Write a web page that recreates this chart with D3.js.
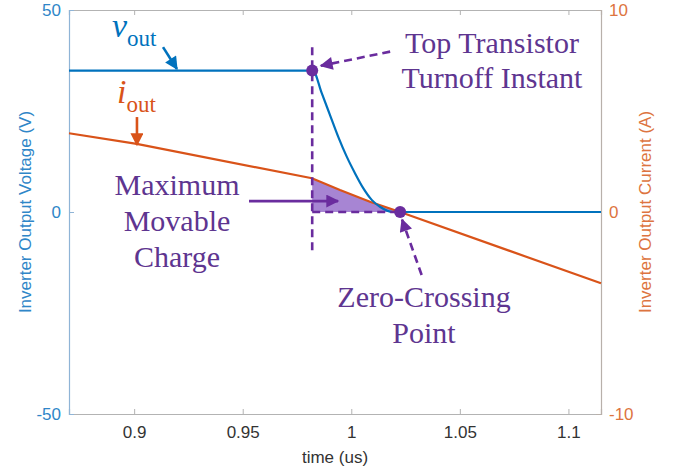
<!DOCTYPE html>
<html>
<head>
<meta charset="utf-8">
<script src="https://cdn.jsdelivr.net/npm/d3@7"></script>
<style>
  body { margin: 0; background: #fff; }
  text { font-family: Arial, "Liberation Sans", Helvetica, sans-serif; }
  text.serif { font-family: "Liberation Serif", "Times New Roman", serif; }
</style>
</head>
<body>
<div id="chart"></div>
<script>
// Output voltage (V)
var voutTime = [0.87, 0.9823, 0.9864, 0.9902, 0.9940, 0.9979, 1.0017, 1.0055, 1.0094, 1.0132, 1.0190, 1.115];
var voutVal  = [35, 35, 29.4, 24.0, 18.6, 13.7, 9.6, 5.9, 3.0, 1.3, 0, 0];

// Output current (A)
var ioutTime = [0.87, 0.9012, 0.9819, 0.9948, 1.0086, 1.0225, 1.115];
var ioutVal  = [3.90, 3.37, 1.67, 1.09, 0.51, 0, -3.53];

// Key instants
var turnoffTime = 0.982,
    zeroCrossTime = 1.0225;

var xTicks = [0.9, 0.95, 1, 1.05, 1.1];
var xTickLabels = ['0.9', '0.95', '1', '1.05', '1.1'];
var yLeftTicks = [-50, 0, 50];
var yLeftLabels = ['-50', '0', '50'];
var yRightTicks = [-10, 0, 10];
var yRightLabels = ['-10', '0', '10'];

(function () {
  'use strict';
  var width = 678, height = 474,
      blue = '#0072BD', orange = '#D95319',
      purple = '#6a2c9e', purpleText = '#5e3590';

  var svg = d3.select('#chart').append('svg')
      .attr('width', width)
      .attr('height', height);

  var x = d3.scaleLinear().domain([0.87, 1.115]).range([69, 601]);
  var yL = d3.scaleLinear().domain([-50, 50]).range([414, 10]);
  var yR = d3.scaleLinear().domain([-10, 10]).range([414, 10]);

  // Arrow markers
  var defs = svg.append('defs');
  function marker(id, color) {
    defs.append('marker')
      .attr('id', id)
      .attr('viewBox', '0 0 10 10')
      .attr('refX', 9).attr('refY', 5)
      .attr('markerUnits', 'userSpaceOnUse')
      .attr('markerWidth', 14).attr('markerHeight', 13)
      .attr('orient', 'auto')
      .append('path')
        .attr('d', 'M0,0 L10,5 L0,10 Z')
        .attr('fill', color);
  }
  marker('arrBlue', blue);
  marker('arrOrange', orange);
  marker('arrPurple', purple);

  // Shaded movable charge (between iout and zero, turnoff -> zero crossing)
  var iAt = d3.scaleLinear().domain(ioutTime).range(ioutVal);
  var shade = ioutTime.map(function (t, i) { return {t: t, v: ioutVal[i]}; })
    .filter(function (d) { return d.t > turnoffTime && d.t < zeroCrossTime; });
  shade.unshift({t: turnoffTime, v: iAt(turnoffTime)});
  shade.push({t: zeroCrossTime, v: 0});
  svg.append('path')
    .datum(shade)
    .attr('fill', '#8a5cc4')
    .attr('fill-opacity', 0.75)
    .attr('d', d3.area()
      .x(function (d) { return x(d.t); })
      .y0(yR(0))
      .y1(function (d) { return yR(d.v); }));

  // Axes box
  var xAxisB = d3.axisBottom(x).tickValues(xTicks).tickSize(-5).tickPadding(12)
      .tickFormat(function (d, i) { return xTickLabels[i]; });
  var xAxisT = d3.axisTop(x).tickValues(xTicks).tickSize(-5).tickFormat('');
  var gB = svg.append('g').attr('transform', 'translate(0,414)').call(xAxisB);
  var gT = svg.append('g').attr('transform', 'translate(0,10)').call(xAxisT);
  [gB, gT].forEach(function (g) {
    g.select('.domain').attr('stroke', '#b3b3b3');
    g.selectAll('.tick line').attr('stroke', '#b3b3b3');
  });
  gB.selectAll('.tick text').attr('fill', '#333').attr('font-size', 17);

  var yAxisL = d3.axisLeft(yL).tickValues(yLeftTicks).tickSize(-5).tickPadding(8)
      .tickFormat(function (d, i) { return yLeftLabels[i]; });
  var gL = svg.append('g').attr('transform', 'translate(69,0)').call(yAxisL);
  gL.select('.domain').attr('stroke', '#8fb4d6');
  gL.selectAll('.tick line').attr('stroke', '#8fb4d6');
  gL.selectAll('.tick text').attr('fill', '#2f86c8').attr('font-size', 17);

  var yAxisR = d3.axisRight(yR).tickValues(yRightTicks).tickSize(-5).tickPadding(8)
      .tickFormat(function (d, i) { return yRightLabels[i]; });
  var gR = svg.append('g').attr('transform', 'translate(601,0)').call(yAxisR);
  gR.select('.domain').attr('stroke', '#b8b0aa');
  gR.selectAll('.tick line').attr('stroke', '#b8b0aa');
  gR.selectAll('.tick text').attr('fill', '#dd7440').attr('font-size', 17);

  svg.selectAll('.domain').attr('stroke-width', 1.2);

  // Axis titles
  svg.append('text')
    .attr('transform', 'translate(25,212) rotate(-90)')
    .attr('text-anchor', 'middle').attr('dy', '0.35em')
    .attr('font-size', 17).attr('fill', '#2f86c8')
    .text('Inverter Output Voltage (V)');
  svg.append('text')
    .attr('transform', 'translate(645,212) rotate(-90)')
    .attr('text-anchor', 'middle').attr('dy', '0.35em')
    .attr('font-size', 17).attr('fill', '#dd7440')
    .text('Inverter Output Current (A)');
  svg.append('text')
    .attr('x', 335).attr('y', 463)
    .attr('text-anchor', 'middle')
    .attr('font-size', 17).attr('fill', '#333')
    .text('time (us)');

  // Curves
  var voutLine = d3.line()
    .x(function (d, i) { return x(voutTime[i]); })
    .y(function (d) { return yL(d); })
    .curve(d3.curveMonotoneX);
  var ioutLine = d3.line()
    .x(function (d, i) { return x(ioutTime[i]); })
    .y(function (d) { return yR(d); });

  svg.append('path').datum(ioutVal)
    .attr('fill', 'none').attr('stroke', orange).attr('stroke-width', 2.2)
    .attr('d', ioutLine);
  svg.append('path').datum(voutVal)
    .attr('fill', 'none').attr('stroke', blue).attr('stroke-width', 2.2)
    .attr('d', voutLine);

  // Purple guides (dashed)
  svg.append('line')
    .attr('x1', x(turnoffTime)).attr('x2', x(turnoffTime))
    .attr('y1', yL(40.8)).attr('y2', yL(-9.9))
    .attr('stroke', purple).attr('stroke-width', 2.6)
    .attr('stroke-dasharray', '8,5');
  svg.append('line')
    .attr('x1', x(turnoffTime)).attr('x2', x(zeroCrossTime))
    .attr('y1', yL(0)).attr('y2', yL(0))
    .attr('stroke', purple).attr('stroke-width', 2.6)
    .attr('stroke-dasharray', '8,5');

  // Dots
  svg.append('circle')
    .attr('cx', x(turnoffTime)).attr('cy', yL(35)).attr('r', 6)
    .attr('fill', purple);
  svg.append('circle')
    .attr('cx', x(zeroCrossTime)).attr('cy', yL(0)).attr('r', 6)
    .attr('fill', purple);

  // Arrows [t1, v1, t2, v2] in left-axis units
  function arrow(a, color, mk, dashed) {
    svg.append('line')
      .attr('x1', x(a[0])).attr('y1', yL(a[1]))
      .attr('x2', x(a[2])).attr('y2', yL(a[3]))
      .attr('stroke', color).attr('stroke-width', 2.6)
      .attr('stroke-dasharray', dashed ? '8,5' : null)
      .attr('marker-end', 'url(#' + mk + ')');
  }
  arrow([1.0179, 39.7, 0.9860, 36.2], purple, 'arrPurple', true);
  arrow([0.9529, 2.7, 0.9939, 2.7], purple, 'arrPurple', false);
  arrow([1.0324, -15.6, 1.0234, -1.9], purple, 'arrPurple', true);
  arrow([0.9133, 40.8, 0.9197, 35.4], blue, 'arrBlue', false);
  arrow([0.9013, 23.5, 0.9013, 16.6], orange, 'arrOrange', false);

  // Labels
  function label(lines, cx, y0, dy) {
    lines.forEach(function (s, i) {
      svg.append('text').attr('class', 'serif')
        .attr('x', cx).attr('y', y0 + i * dy)
        .attr('text-anchor', 'middle')
        .attr('font-size', 30).attr('fill', purpleText)
        .text(s);
    });
  }
  label(['Top Transistor', 'Turnoff Instant'], 492, 53, 35);
  label(['Maximum', 'Movable', 'Charge'], 177, 195, 36);
  label(['Zero-Crossing', 'Point'], 424, 307, 36);

  var vt = svg.append('text').attr('class', 'serif')
    .attr('x', 112).attr('y', 37).attr('fill', blue);
  vt.append('tspan').attr('font-style', 'italic').attr('font-size', 34).text('v');
  vt.append('tspan').attr('font-size', 23).attr('dy', 9).text('out');

  var it = svg.append('text').attr('class', 'serif')
    .attr('x', 117).attr('y', 103).attr('fill', orange);
  it.append('tspan').attr('font-style', 'italic').attr('font-size', 34).text('i');
  it.append('tspan').attr('font-size', 23).attr('dy', 9).text('out');
}());
</script>
</body>
</html>
